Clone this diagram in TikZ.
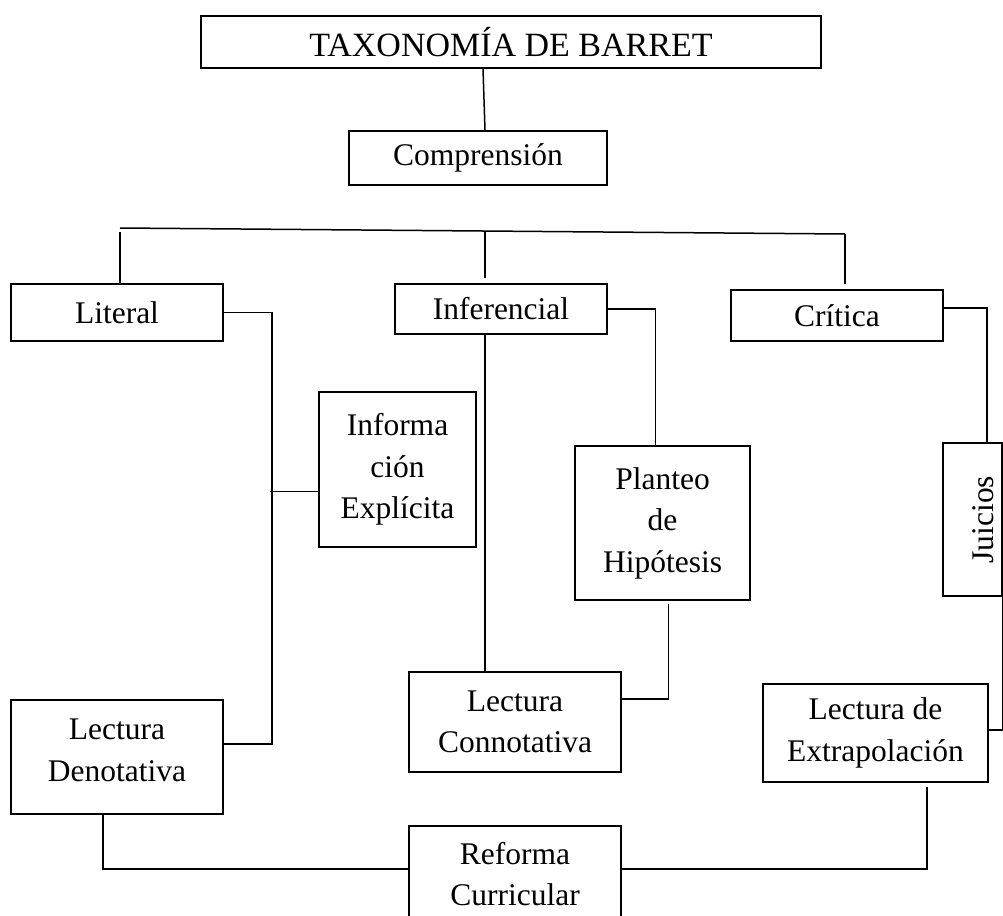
\documentclass[tikz,border=0pt]{standalone}
\usepackage{fontspec}
\setmainfont{Liberation Serif}
\usepackage{tikz}

\begin{document}
\begin{tikzpicture}[x=1pt, y=-1pt, line width=1.5pt,
  caja/.style={draw, inner sep=0pt, align=center, font=\fontsize{31.5}{41.5}\selectfont}]
\useasboundingbox (0,0) rectangle (1003,915);
% niveles
\node[caja, minimum width=620pt, minimum height=52pt, font=\fontsize{34}{40}\selectfont] (tax) at (511,42) {TAXONOMÍA DE BARRET};
\node[caja, minimum width=258pt, minimum height=54pt] (com) at (478,158) {Comprensión};
\node[caja, minimum width=212pt, minimum height=57pt] (lit) at (117,312.5) {Literal};
\node[caja, minimum width=212pt, minimum height=50pt] (inf) at (501,309) {Inferencial};
\node[caja, minimum width=212pt, minimum height=51pt] (crit) at (837,315.5) {Crítica};
\node[caja, minimum width=157pt, minimum height=155pt] (info) at (397.5,469.5) {Informa\\ción\\Explícita};
\node[caja, minimum width=175pt, minimum height=154pt] (plan) at (662.5,523) {Planteo\\de\\Hipótesis};
\node[caja, minimum width=59pt, minimum height=153pt] (jui) at (972.5,519.5) {\hspace*{22pt}\rotatebox{90}{Juicios}};
\node[caja, minimum width=212pt, minimum height=114pt, text depth=14pt] (den) at (117,757) {Lectura\\Denotativa};
\node[caja, minimum width=212pt, minimum height=100pt] (con) at (515,722) {Lectura\\Connotativa};
\node[caja, minimum width=225pt, minimum height=98pt] (ext) at (875.5,733) {Lectura de\\Extrapolación};
\node[caja, minimum width=212pt, minimum height=96pt] (ref) at (515,874) {Reforma\\Curricular};
% barra
\coordinate (barL) at (120,228);
\coordinate (barM) at (485,231);
\coordinate (barR) at (845,234);
\draw ([xshift=-28pt]tax.south) -- ([xshift=7pt]com.north);
\draw (barL) -- (barR);
\draw ([yshift=-4pt]barL) -- (barL |- lit.north);
\draw[shorten >=5pt] (barM) -- (barM |- inf.north);
\draw[shorten >=5pt] (barR) -- (barR |- crit.north);
% ramas
\draw (lit.east) -- ++(48,0) |- ([yshift=13pt]den.east);
\draw ([yshift=-22pt]info.west) -- ++(-48,0);
\draw (barM |- inf.south) -- (barM |- con.north);
\draw (inf.east) -| ([xshift=-7pt]plan.north);
\draw ([xshift=6pt,yshift=-3pt]plan.south) |- ([yshift=23pt]con.east);
\draw ([yshift=7.5pt]crit.east) -| ([xshift=14.5pt]jui.north);
\draw (jui.south east) |- ([yshift=3pt]ext.east);
\draw ([xshift=51.5pt,yshift=-4pt]ext.south) |- ([yshift=5pt]ref.east);
\draw ([xshift=-14pt]den.south) |- ([yshift=5pt]ref.west);
\end{tikzpicture}
\end{document}
